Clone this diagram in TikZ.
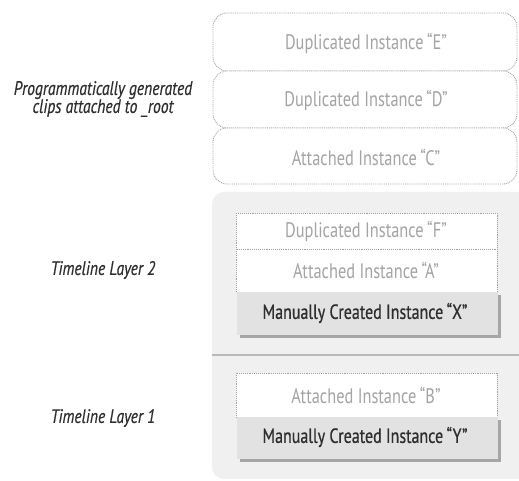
\documentclass[tikz,border=0pt]{standalone}
\usepackage{fontspec}
\setmainfont{PT Sans}[FakeStretch=0.78]
\newfontfamily\heavyfont{PT Sans}[FakeStretch=0.78, FakeBold=0.6]
\newfontfamily\sideitfont{PT Sans Italic}[FakeStretch=0.8, FakeBold=0.5]
\definecolor{txtlight}{HTML}{A4A4A4}
\definecolor{txtdark}{HTML}{2E2E2E}
\definecolor{dotline}{HTML}{A0A0A0}
\definecolor{panel}{HTML}{F0F0F0}
\definecolor{manfill}{HTML}{E2E2E2}
\definecolor{manshadow}{HTML}{A6A6A6}
\tikzset{
  instbox/.style={draw=dotline, densely dotted, line width=0.9pt, fill=white, inner sep=0pt},
  rootbox/.style={instbox, rounded corners=14pt},
  lighttext/.style={text=txtlight, font=\fontsize{21}{23}\selectfont},
  darktext/.style={text=txtdark, font=\heavyfont\fontsize{20.5}{23}\selectfont},
  sidelabel/.style={text=txtdark, font=\sideitfont\fontsize{19.5}{18}\selectfont, align=center},
}
\begin{document}
\begin{tikzpicture}[x=1pt,y=-1pt]
\useasboundingbox (0,0) rectangle (519,481);
\clip (0,0) rectangle (519,481);
% gray panel
\fill[panel, rounded corners=12pt] (212,192) rectangle (540,479);
\draw[color=manshadow!80, line width=1.2pt] (212,355) coordinate (sepL) -- (519,355) coordinate (sepR);
% root-attached clips
\draw[rootbox] (213,13) rectangle (517,71);
\node[lighttext] (e) at (366,43) {Duplicated Instance\,“E”};
\draw[rootbox] (213,71) rectangle (517,128);
\node[lighttext] (d) at (366,100) {Duplicated Instance\,“D”};
\draw[rootbox] (213,128) rectangle (517,184);
\node[lighttext] (c) at (366,157) {Attached Instance\,“C”};
% layer 2
\draw[instbox] (236,213) rectangle (497,249);
\node[lighttext] (f) at (366,231) {Duplicated Instance\,“F”};
\draw[instbox] (236,249) rectangle (497,292);
\node[lighttext] (a) at (366,270) {Attached Instance\,“A”};
\fill[manshadow] (240,295) rectangle (501,338);
\fill[manfill] (237,292) rectangle (498,335);
\node[darktext] (x) at (365,313) {Manually Created Instance\,“X”};
% layer 1
\draw[instbox] (236,373) rectangle (497,417);
\node[lighttext] (b) at (366,395) {Attached Instance\,“B”};
\fill[manshadow] (240,420) rectangle (501,462);
\fill[manfill] (237,417) rectangle (498,459);
\node[darktext] (y) at (365,437) {Manually Created Instance\,“Y”};
% side labels
\node[sidelabel] (prog) at (103,99) {Programmatically generated\\clips attached to \_root};
\node[sidelabel] (tl2) at (103,270) {Timeline Layer 2};
\node[sidelabel] (tl1) at (103,418) {Timeline Layer 1};
\end{tikzpicture}
\end{document}
